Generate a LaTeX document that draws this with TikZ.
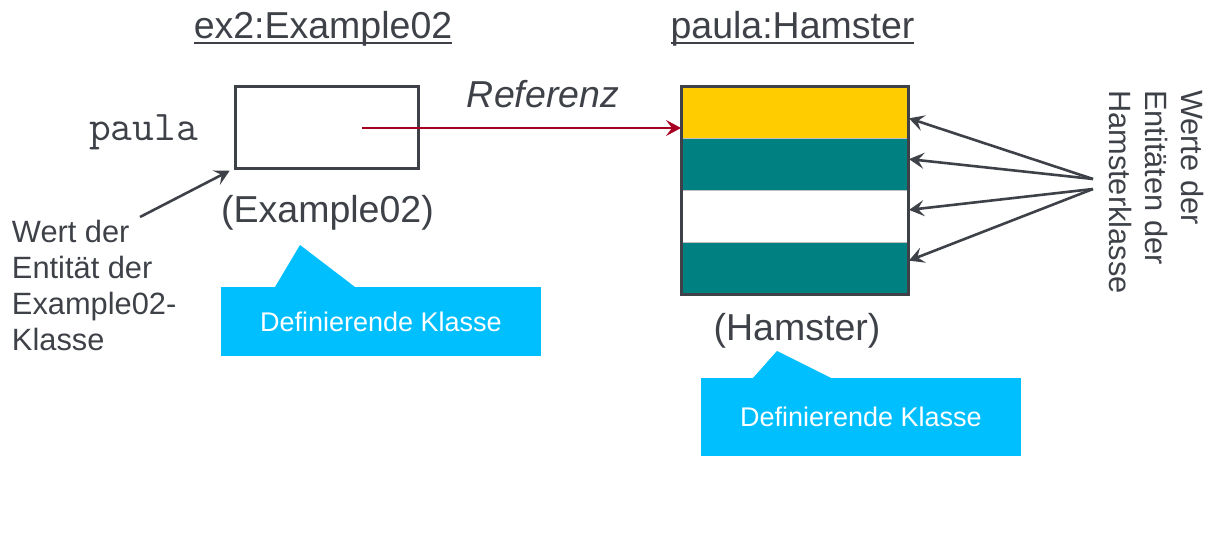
\documentclass[tikz,border=0pt]{standalone}
\usepackage{fontspec}
\setmainfont{Liberation Sans}
\usepackage{tikz}
\usetikzlibrary{arrows.meta}
\usetikzlibrary{positioning}

\definecolor{dgray}{RGB}{62,66,72}
\definecolor{hamteal}{RGB}{0,128,128}
\definecolor{hamyellow}{RGB}{255,204,0}
\definecolor{calblue}{RGB}{0,191,255}
\definecolor{refred}{RGB}{165,0,33}

\begin{document}
\begin{tikzpicture}[x=1pt,y=-1pt,
			every node/.style={text=dgray,inner sep=0pt,outer sep=0pt},
			big/.style={font=\fontsize{37.5}{45}\selectfont},
			small/.style={font=\fontsize{30.8}{36.2}\selectfont,align=left},
			mono/.style={font=\fontsize{42.3}{50}\selectfont\ttfamily},
			uline/.style={draw=dgray,line width=2.2pt},
			stripe/.style={minimum width=227pt,minimum height=52pt,draw=gray!50,line width=0.8pt},
			callout/.style={fill=calblue,text=white,minimum width=320pt,font=\fontsize{27}{32}\selectfont},
			pointer/.style={draw=dgray,line width=2.6pt,-{Stealth[length=15pt,width=16pt,inset=6pt]}},
			refarrow/.style={draw=refred,line width=2.8pt,-{Stealth[length=15pt,width=16pt,inset=6pt]}}]
			
			\useasboundingbox (0,0) rectangle (1217,551);
			
			% Example02-Objekt
			\node[big,anchor=base] (titleA) at (323,38) {ex2:Example02};
			\draw[uline] ([yshift=-5pt]titleA.base west) -- ([yshift=-5pt]titleA.base east);
			\node[draw=dgray,line width=3pt,minimum width=183pt,minimum height=82pt] (boxA) at (326.5,127) {};
			\node[mono,anchor=base east] (varA) at (198,140) {paula};
			\node[big,anchor=base] (typeA) at (327.5,222) {(Example02)};
			\node[big,anchor=base] (ref) at (543,107) {\itshape Referenz};
			\node[callout,minimum height=69pt] (defA) at (381,321.5) {Definierende Klasse};
			\fill[calblue] ([xshift=54pt]defA.north west) -- ++(25,-42) -- ([xshift=134pt]defA.north west) -- cycle;
			\node[small,anchor=north west] (wertA) at (12,220) {Wert der\\Entität der\\Example02-\\Klasse};
			\coordinate (wertA tip) at (140,217);
			\draw[pointer,shorten >=6pt] (wertA tip) -- (boxA.south west);
			
			% Hamster-Objekt
			\node[big,anchor=base] (titleB) at (792.5,38) {paula:Hamster};
			\draw[uline] ([yshift=-5pt]titleB.base west) -- ([yshift=-5pt]titleB.base east);
			\node[stripe,fill=hamyellow,anchor=north west] (s1) at (681,86) {};
			\node[stripe,fill=hamteal,below=0pt of s1] (s2) {};
			\node[stripe,fill=white,below=0pt of s2] (s3) {};
			\node[stripe,fill=hamteal,below=0pt of s3] (s4) {};
			\draw[dgray,line width=3pt] (s1.north west) rectangle (s4.south east);
			\node[big,anchor=base] (typeB) at (797,340) {(Hamster)};
			\node[callout,minimum height=78pt] (defB) at (861,417) {Definierende Klasse};
			\fill[calblue] ([xshift=52pt]defB.north west) -- ++(24,-27) -- ([xshift=130pt]defB.north west) -- cycle;
			\node[small,rotate=-90,anchor=north west] (werteB) at (1204,90) {Werte der\\Entitäten der\\Hamsterklasse};
			
			\coordinate (refstart) at (362,128);
			\draw[refarrow] (refstart) -- (refstart -| s1.west);
			
			\coordinate (werteB top) at (1093,179);
			\coordinate (werteB bottom) at (1093,189);
			\draw[pointer,shorten >=1pt] (werteB top) -- ([yshift=-6pt]s1.east);
			\draw[pointer,shorten >=1pt] (werteB top) -- ([yshift=5pt]s2.east);
			\draw[pointer,shorten >=1pt] (werteB bottom) -- ([yshift=6pt]s3.east);
			\draw[pointer,shorten >=1pt] (werteB bottom) -- ([yshift=7pt]s4.east);
		\end{tikzpicture}
\end{document}
